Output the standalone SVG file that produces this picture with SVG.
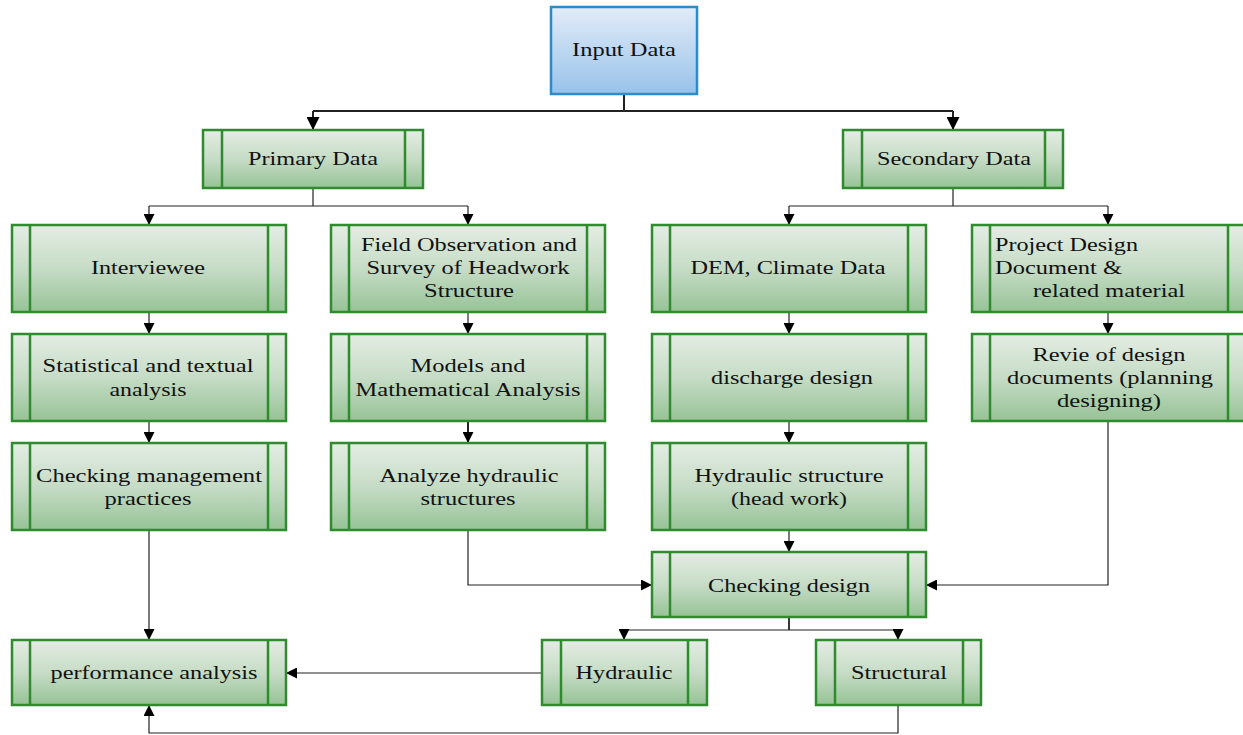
<svg xmlns="http://www.w3.org/2000/svg" width="1243" height="735" viewBox="0 0 1243 735">
<defs>
<linearGradient id="gg" x1="0" y1="0" x2="0" y2="1"><stop offset="0" stop-color="#e4ede4"/><stop offset="0.5" stop-color="#c6dcc6"/><stop offset="1" stop-color="#96c396"/></linearGradient>
<linearGradient id="bg" x1="0" y1="0" x2="0" y2="1"><stop offset="0" stop-color="#e2ecf8"/><stop offset="1" stop-color="#98c2ea"/></linearGradient>
<marker id="ar" viewBox="0 0 10 10" refX="10" refY="5" markerWidth="11" markerHeight="11" markerUnits="userSpaceOnUse" orient="auto"><path d="M0,0 L10,5 L0,10 z" fill="#000"/></marker>
<marker id="arL" viewBox="0 0 10 10" refX="10" refY="5" markerWidth="13" markerHeight="13" markerUnits="userSpaceOnUse" orient="auto"><path d="M0,0 L10,5 L0,10 z" fill="#000"/></marker>
</defs>
<style>
.n{fill:url(#gg);stroke:#2e8b2e;stroke-width:2.5}
.s{stroke:#2e8b2e;stroke-width:2.5;fill:none}
.b{fill:url(#bg);stroke:#2b8ccc;stroke-width:2.5}
text{font-family:"Liberation Serif","Times New Roman",serif;font-size:19px;fill:#111;text-anchor:middle}
.c{fill:none;stroke:#222;stroke-width:1.2;marker-end:url(#ar)}
.c2{fill:none;stroke:#222;stroke-width:1.2}
</style>
<g id="connectors">
<path d="M624,94 V111" class="c2" style="stroke-width:2"/>
<path d="M313,111 H953" class="c2" style="stroke-width:2"/>
<path d="M313,111 V130" class="c" style="stroke-width:2;marker-end:url(#arL)"/>
<path d="M953,111 V130" class="c" style="stroke-width:2;marker-end:url(#arL)"/>
<path d="M313,188 V206" class="c2"/>
<path d="M149,206 H468" class="c2"/>
<path d="M149,206 V225" class="c"/>
<path d="M468,206 V225" class="c"/>
<path d="M953,188 V206" class="c2"/>
<path d="M789,206 H1108" class="c2"/>
<path d="M789,206 V225" class="c"/>
<path d="M1108,206 V225" class="c"/>
<path d="M149,312 V334" class="c"/>
<path d="M149,421 V443" class="c"/>
<path d="M468,312 V334" class="c"/>
<path d="M468,421 V443" class="c" style="stroke-width:2"/>
<path d="M789,312 V334" class="c"/>
<path d="M789,421 V443" class="c"/>
<path d="M1108,312 V334" class="c"/>
<path d="M789,530 V552" class="c"/>
<path d="M149,530 V640" class="c"/>
<path d="M468,530 V585 H652" class="c"/>
<path d="M1108,421 V585 H926" class="c"/>
<path d="M789,617 V630" class="c2" style="stroke-width:1.8"/>
<path d="M624,630 H898" class="c2"/>
<path d="M624,630 V640" class="c"/>
<path d="M898,630 V640" class="c"/>
<path d="M542,673 H286" class="c"/>
<path d="M898,705 V733 H149 V705" class="c"/>
</g>
<g id="input-data">
<rect x="551" y="7" width="146" height="87" class="b"/>
<text x="624" y="56" textLength="104" lengthAdjust="spacingAndGlyphs">Input Data</text>
</g>
<g id="primary-data">
<rect x="203" y="130" width="220" height="58" class="n"/>
<path d="M222,130 V188 M405,130 V188" class="s"/>
<text x="313" y="165" textLength="130" lengthAdjust="spacingAndGlyphs">Primary Data</text>
</g>
<g id="secondary-data">
<rect x="843" y="130" width="220" height="58" class="n"/>
<path d="M862,130 V188 M1045,130 V188" class="s"/>
<text x="954" y="165" textLength="154" lengthAdjust="spacingAndGlyphs">Secondary Data</text>
</g>
<g id="interviewee">
<rect x="12" y="225" width="274" height="87" class="n"/>
<path d="M30,225 V312 M268,225 V312" class="s"/>
<text x="148" y="274" textLength="114" lengthAdjust="spacingAndGlyphs">Interviewee</text>
</g>
<g id="field-observation">
<rect x="331" y="225" width="274" height="87" class="n"/>
<path d="M349,225 V312 M587,225 V312" class="s"/>
<text x="469" y="251" textLength="216" lengthAdjust="spacingAndGlyphs">Field Observation and</text>
<text x="468" y="274" textLength="203" lengthAdjust="spacingAndGlyphs">Survey of Headwork</text>
<text x="469" y="297" textLength="90" lengthAdjust="spacingAndGlyphs">Structure</text>
</g>
<g id="dem-climate">
<rect x="652" y="225" width="274" height="87" class="n"/>
<path d="M670,225 V312 M908,225 V312" class="s"/>
<text x="788" y="274" textLength="195" lengthAdjust="spacingAndGlyphs">DEM, Climate Data</text>
</g>
<g id="project-design">
<rect x="972" y="225" width="274" height="87" class="n"/>
<path d="M990,225 V312 M1228,225 V312" class="s"/>
<text x="995" y="251" textLength="143" lengthAdjust="spacingAndGlyphs" style="text-anchor:start">Project Design</text>
<text x="995" y="274" textLength="127" lengthAdjust="spacingAndGlyphs" style="text-anchor:start">Document &amp;</text>
<text x="1033" y="297" textLength="152" lengthAdjust="spacingAndGlyphs" style="text-anchor:start">related material</text>
</g>
<g id="statistical">
<rect x="12" y="334" width="274" height="87" class="n"/>
<path d="M30,334 V421 M268,334 V421" class="s"/>
<text x="148" y="372" textLength="211" lengthAdjust="spacingAndGlyphs">Statistical and textual</text>
<text x="148" y="396" textLength="77" lengthAdjust="spacingAndGlyphs">analysis</text>
</g>
<g id="models">
<rect x="331" y="334" width="274" height="87" class="n"/>
<path d="M349,334 V421 M587,334 V421" class="s"/>
<text x="468" y="372" textLength="115" lengthAdjust="spacingAndGlyphs">Models and</text>
<text x="468" y="396" textLength="225" lengthAdjust="spacingAndGlyphs">Mathematical Analysis</text>
</g>
<g id="discharge">
<rect x="652" y="334" width="274" height="87" class="n"/>
<path d="M670,334 V421 M908,334 V421" class="s"/>
<text x="792" y="384" textLength="162" lengthAdjust="spacingAndGlyphs">discharge design</text>
</g>
<g id="revie">
<rect x="972" y="334" width="274" height="87" class="n"/>
<path d="M990,334 V421 M1228,334 V421" class="s"/>
<text x="1109" y="361" textLength="153" lengthAdjust="spacingAndGlyphs">Revie of design</text>
<text x="1110" y="384" textLength="206" lengthAdjust="spacingAndGlyphs">documents (planning</text>
<text x="1109" y="407" textLength="104" lengthAdjust="spacingAndGlyphs">designing)</text>
</g>
<g id="checking-management">
<rect x="12" y="443" width="274" height="87" class="n"/>
<path d="M30,443 V530 M268,443 V530" class="s"/>
<text x="149" y="482" textLength="226" lengthAdjust="spacingAndGlyphs">Checking management</text>
<text x="148" y="505" textLength="87" lengthAdjust="spacingAndGlyphs">practices</text>
</g>
<g id="analyze-hydraulic">
<rect x="331" y="443" width="274" height="87" class="n"/>
<path d="M349,443 V530 M587,443 V530" class="s"/>
<text x="469" y="482" textLength="179" lengthAdjust="spacingAndGlyphs">Analyze hydraulic</text>
<text x="468" y="505" textLength="95" lengthAdjust="spacingAndGlyphs">structures</text>
</g>
<g id="hydraulic-structure">
<rect x="652" y="443" width="274" height="87" class="n"/>
<path d="M670,443 V530 M908,443 V530" class="s"/>
<text x="789" y="482" textLength="189" lengthAdjust="spacingAndGlyphs">Hydraulic structure</text>
<text x="789" y="505" textLength="116" lengthAdjust="spacingAndGlyphs">(head work)</text>
</g>
<g id="checking-design">
<rect x="652" y="552" width="274" height="65" class="n"/>
<path d="M670,552 V617 M908,552 V617" class="s"/>
<text x="789" y="592" textLength="162" lengthAdjust="spacingAndGlyphs">Checking design</text>
</g>
<g id="performance-analysis">
<rect x="12" y="640" width="274" height="65" class="n"/>
<path d="M30,640 V705 M268,640 V705" class="s"/>
<text x="154" y="679" textLength="207" lengthAdjust="spacingAndGlyphs">performance analysis</text>
</g>
<g id="hydraulic">
<rect x="542" y="640" width="165" height="65" class="n"/>
<path d="M561,640 V705 M688,640 V705" class="s"/>
<text x="624" y="679" textLength="97" lengthAdjust="spacingAndGlyphs">Hydraulic</text>
</g>
<g id="structural">
<rect x="816" y="640" width="165" height="65" class="n"/>
<path d="M835,640 V705 M963,640 V705" class="s"/>
<text x="899" y="679" textLength="96" lengthAdjust="spacingAndGlyphs">Structural</text>
</g>
</svg>
